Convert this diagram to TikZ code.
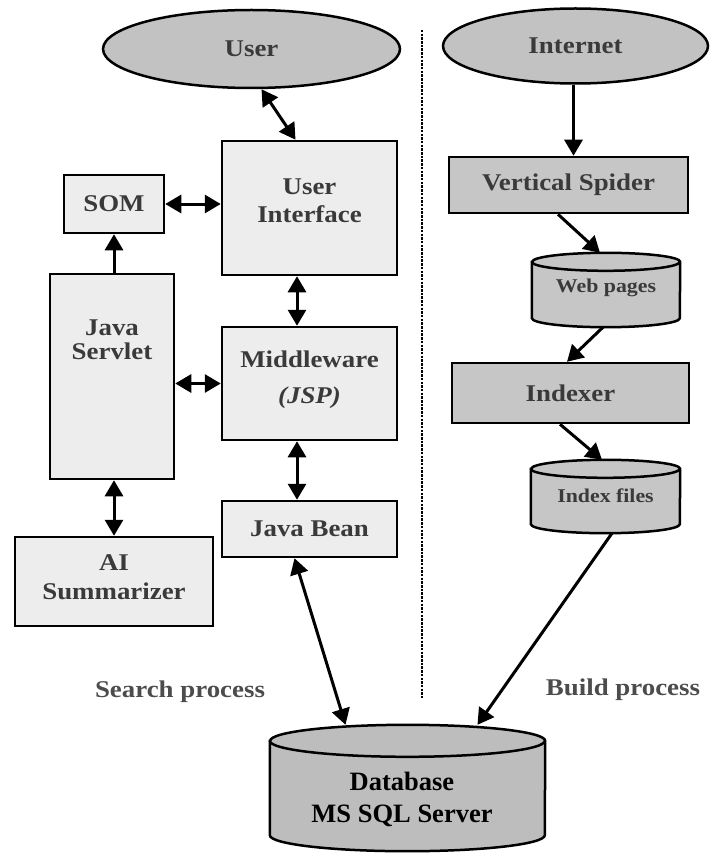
\documentclass[tikz,border=0pt]{standalone}
\usepackage{fontspec}
\setmainfont[FakeStretch=1.12]{Liberation Serif}
\newfontfamily\dbfont{Liberation Serif}
\usetikzlibrary{shapes.geometric,arrows.meta,calc}
\definecolor{boxlight}{HTML}{EDEDED}
\definecolor{boxdark}{HTML}{C6C6C6}
\definecolor{elfill}{HTML}{C2C2C2}
\definecolor{dbfill}{HTML}{BDBDBD}
\definecolor{txtgray}{HTML}{3A3A3A}
% cylinder outline around a named rectangular node: #1 name, #2 half width, #3 end radius, #4 fill
\newcommand{\drawcyl}[4]{%
  \draw[line width=2.5pt, fill=#4]
    ($(#1.north west)+(0,#3)$) -- ($(#1.south west)+(0,-#3)$)
    arc[start angle=180, end angle=0, x radius=#2, y radius=#3]
    -- ($(#1.north east)+(0,#3)$)
    arc[start angle=0, end angle=-180, x radius=#2, y radius=#3] -- cycle;
  \draw[line width=2.5pt] ($(#1.north west)+(0,#3)$)
    arc[start angle=180, end angle=0, x radius=#2, y radius=#3];
}
\begin{document}
\begin{tikzpicture}[x=1pt,y=-1pt,
  base/.style={draw=black, line width=2.5pt, inner sep=0pt, align=center, text=txtgray,
    font=\bfseries\fontsize{24}{28}\selectfont},
  lightbox/.style={base, rectangle, fill=boxlight},
  darkbox/.style={base, rectangle, fill=boxdark},
  oval/.style={base, ellipse, fill=elfill},
  cylbox/.style={inner sep=0pt, align=center, text=txtgray, rectangle,
    font=\bfseries\fontsize{19.5}{22}\selectfont},
  txt/.style={inner sep=0pt, align=center, text=txtgray, font=\bfseries\fontsize{24}{28}\selectfont},
  tip/.style={-{Triangle[length=16pt,width=18pt]}},
  both/.style={{Triangle[length=16pt,width=18pt]}-{Triangle[length=16pt,width=18pt]}},
  conn/.style={line width=3pt},
  sep/.style={line width=2.5pt, dash pattern=on 2.5pt off 1.2pt}
]
\useasboundingbox (0,0) rectangle (710,853);

% left side
\node[oval, minimum width=297pt, minimum height=78pt] (user) at (251.5,49) {User};
\node[lightbox, minimum width=175pt, minimum height=134pt] (ui) at (309.5,208) {};
\node[txt] (uilbl) at (309.5,201) {User\\Interface};
\node[lightbox, minimum width=100pt, minimum height=58pt] (som) at (114,204) {SOM};
\node[lightbox, minimum width=124pt, minimum height=205pt] (servlet) at (112,376.5) {};
\node[txt, font=\bfseries\fontsize{24}{24}\selectfont] (servletlbl) at (112,340) {Java\\Servlet};
\node[lightbox, minimum width=175pt, minimum height=113pt] (mid) at (309.5,383.5) {};
\node[txt, font=\bfseries\fontsize{24}{36}\selectfont] (midlbl) at (309.5,380) {Middleware\\\textit{(JSP)}};
\node[lightbox, minimum width=175pt, minimum height=56pt] (bean) at (309.5,529) {Java Bean};
\node[lightbox, minimum width=198pt, minimum height=89pt] (ai) at (114,581.5) {};
\node[txt, font=\bfseries\fontsize{24}{29}\selectfont] (ailbl) at (114,577) {AI\\Summarizer};

% right side
\node[oval, minimum width=265pt, minimum height=75pt] (internet) at (575.5,46) {Internet};
\node[darkbox, minimum width=239pt, minimum height=56pt] (spider) at (568.5,185) {Vertical Spider};
\node[cylbox, minimum width=148pt, minimum height=74pt] (web) at (606,290) {};
\drawcyl{web}{74}{9}{boxdark}
\node[cylbox] (weblbl) at (606,288) {Web pages};
\node[darkbox, minimum width=237pt, minimum height=60pt] (indexer) at (570.5,393) {Indexer};
\node[cylbox, minimum width=149pt, minimum height=73pt] (idx) at (605.5,496.5) {};
\drawcyl{idx}{74.5}{9}{boxdark}
\node[cylbox] (idxlbl) at (605.5,496) {Index files};

% database
\node[cylbox, minimum width=275pt, minimum height=126pt] (db) at (407.5,788) {};
\drawcyl{db}{137.5}{16}{dbfill}
\node[txt, text=black, font=\dbfont\bfseries\fontsize{26.5}{32}\selectfont] (dblbl) at (402,799) {Database\\MS SQL Server};

% separator
\coordinate (septop) at (422,30);
\coordinate (sepbot) at (422,698);
\draw[sep] (septop) -- (sepbot);

% process labels
\node[txt, font=\bfseries\fontsize{24}{24}\selectfont, text=black!70] (search) at (180,692) {Search process};
\node[txt, font=\bfseries\fontsize{24}{24}\selectfont, text=black!70] (build) at (623,690) {Build process};

% connectors left
\draw[conn, both] ([xshift=10pt]user.south) -- ([xshift=-14pt]ui.north);
\draw[conn, both] (som.east) -- (som.east -| ui.west);
\draw[conn, tip] (som.south |- servlet.north) -- (som.south);
\draw[conn, both] ([xshift=-12.5pt]ui.south) -- ([xshift=-12.5pt]mid.north);
\draw[conn, both] (mid.west -| servlet.east) -- (mid.west);
\draw[conn, both] ([xshift=-12.5pt]mid.south) -- ([xshift=-12.5pt]bean.north);
\draw[conn, both] (ai.north |- servlet.south) -- (ai.north);
\draw[conn, both] ([xshift=-15pt]bean.south) -- ([xshift=-62pt]db.north);

% connectors right
\draw[conn, tip] ([xshift=-2pt]internet.south) -- ([xshift=-2pt]internet.south |- spider.north);
\draw[conn, tip] ([xshift=-10.5pt]spider.south) -- ([xshift=-6pt]web.north);
\draw[conn, tip] ([xshift=-3pt]web.south) -- ([xshift=-3.5pt]indexer.north);
\draw[conn, tip] ([xshift=-10.5pt]indexer.south) -- ([xshift=-3.5pt]idx.north);
\draw[conn, tip] ([xshift=6.5pt]idx.south) -- ([xshift=70pt]db.north);
\end{tikzpicture}
\end{document}
